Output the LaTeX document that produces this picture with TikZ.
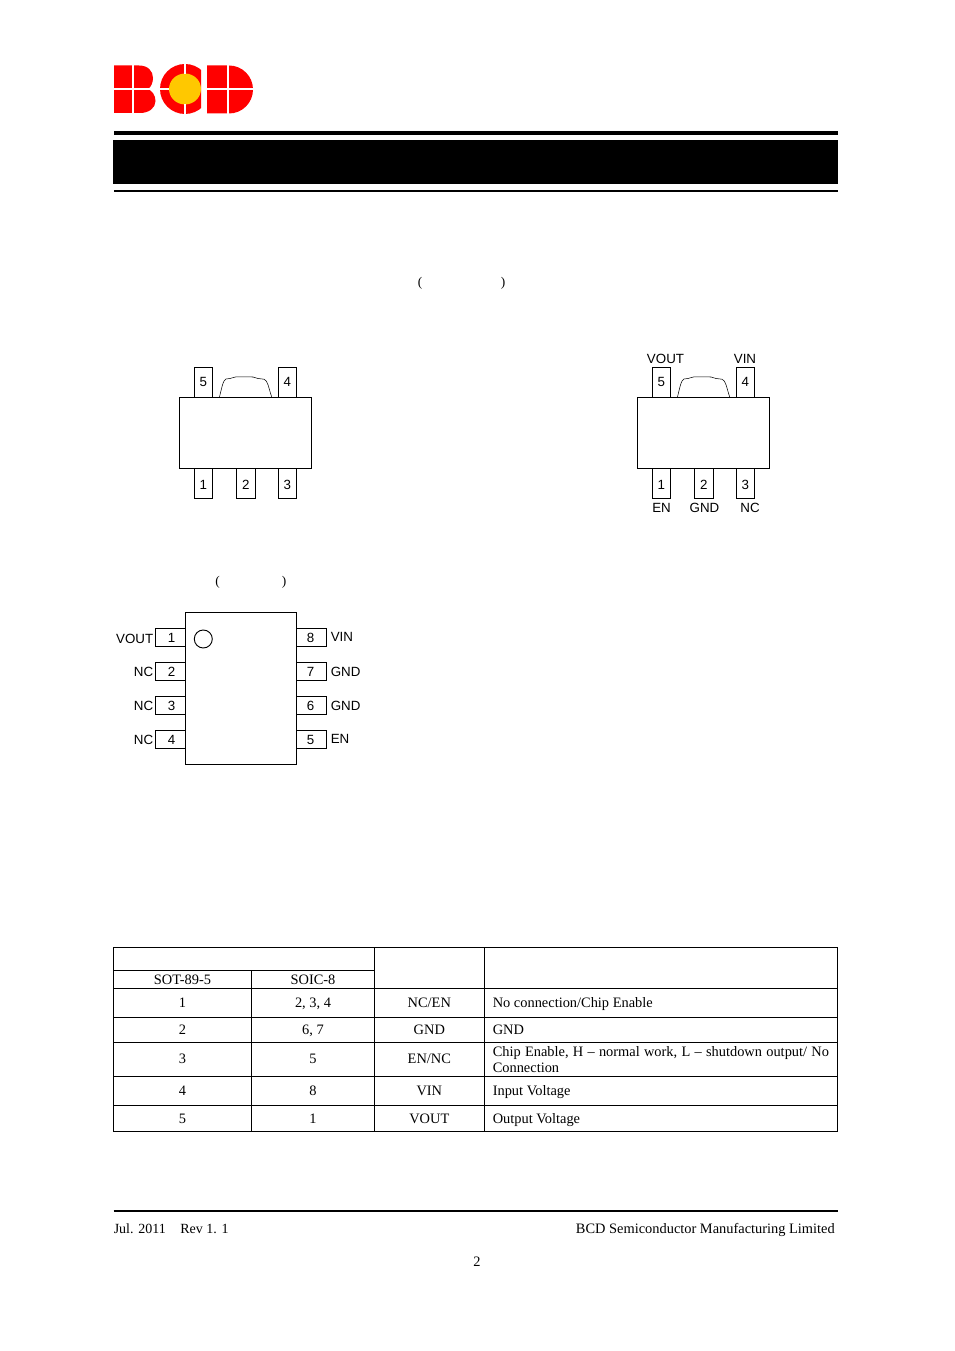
\documentclass[tikz,border=0pt]{standalone}
\usepackage{fontspec}
\setmainfont{Liberation Serif}
\newfontfamily\pinfont{Liberation Sans}
\definecolor{logored}{RGB}{255,0,0}
\definecolor{logoyellow}{RGB}{255,200,0}
\tikzset{
	pin/.style={draw,inner sep=0pt,text depth=0pt,font=\pinfont\fontsize{10}{12}\selectfont},
	pinlabel/.style={inner sep=0pt,font=\pinfont\fontsize{10}{12}\selectfont},
	cell/.style={inner sep=0pt,anchor=base,font=\fontsize{10.8}{12}\selectfont},
	paren/.style={inner sep=0pt,font=\fontsize{10}{12}\selectfont},
	gap/.style={white,line width=0.8pt},
	rule/.style={line width=0.75pt}
}
\newcommand{\sotpack}[2]{
	\node[draw,minimum width=99pt,minimum height=53.25pt,inner sep=0pt] (#2body) at (245.4+#1,432.8){};
	\foreach \nm/\xx/\yy/\th in {5/203.4/382.2/7.2pt,4/287.4/382.2/7.2pt,1/203.4/483.4/8.8pt,2/245.8/483.4/8.8pt,3/287.4/483.4/8.8pt}{
		\node[pin,text height=\th,minimum width=13.6pt,minimum height=22.5pt] (#2pin\nm) at (\xx+#1,\yy){\nm};
	}
	\draw (219.4+#1,397.3) .. controls (221.5+#1,389) and (223+#1,380) .. (226+#1,379) -- (230+#1,378.5) .. controls (233+#1,378) and (234+#1,376.8) .. (238+#1,376.8) -- (253+#1,377) -- (258+#1,378.5) -- (264+#1,379.2) .. controls (268+#1,381) and (268+#1,386) .. (271.8+#1,397.3);
}
\begin{document}
\begin{tikzpicture}[x=0.75pt,y=-0.75pt]

	\path[use as bounding box] (0,0) rectangle (954,1351);

	\fill[logored] (114,65.5) -- (139,65.5) .. controls (148,65.5) and (153,71) .. (153,78) .. controls (153,83) and (151,87) .. (148,89) .. controls (152,91) and (155.5,95) .. (155.5,101) .. controls (155.5,108) and (149,113) .. (140,113) -- (114,113) -- cycle;
	\begin{scope}
		\clip (155,60) rectangle (201,118);
		\fill[logored] (185,89) circle[radius=18.75pt];
		\fill[logoyellow] (185,89) ellipse[x radius=12pt,y radius=11.6pt];
	\end{scope}
	\fill[logored] (207,65.5) -- (229,65.5) arc[start angle=90,end angle=-90,x radius=18pt,y radius=18pt] -- (207,113.5) -- cycle;
	\draw[gap] (133,65) -- (133,114);
	\draw[gap] (113,89) -- (150,89);
	\draw[gap] (158,89) -- (169,89);
	\draw[gap] (185,63) -- (185,74);
	\draw[gap] (185,104) -- (185,115);
	\draw[gap] (228,65) -- (228,114);
	\draw[gap] (207,89) -- (254,89);

	\fill (114,131) rectangle (838,135);
	\fill (113,140) rectangle (838,184);
	\fill (114,190) rectangle (838,192);

	\node[paren] (parena) at (420,283){(};
	\node[paren] (parenb) at (503,283){)};
	\node[paren] (parenc) at (217.5,582){(};
	\node[paren] (parend) at (284,582){)};

	\sotpack{0}{l}
	\sotpack{458}{r}

	\foreach \nm/\txt/\xx/\yy in {a/VOUT/665.5/359,b/VIN/745/359,c/EN/661.5/508,d/GND/704.5/508,e/NC/750/508}{
		\node[pinlabel] (rlab\nm) at (\xx,\yy){\txt};
	}

	\node[draw,minimum width=83.25pt,minimum height=113.75pt,inner sep=0pt] (soic) at (240.8,688.2){};
	\node[draw,circle,line width=0.7pt,minimum size=13.5pt,inner sep=0pt] (dot) at (203.3,639){};
	\foreach \nm/\yy/\ly/\txt in {1/637.5/639/VOUT,2/671.5/672/NC,3/705.5/706/NC,4/739.2/740/NC}{
		\node[pin,text height=7.2pt,minimum width=22.5pt,minimum height=13.2pt] (pin\nm) at (170.3,\yy){\hspace*{1.8pt}\nm};
		\node[pinlabel,anchor=east] (lab\nm) at (153.5,\ly){\txt};
	}
	\foreach \nm/\yy/\txt in {8/637.2/VIN,7/671.5/GND,6/705.5/GND,5/739.2/EN}{
		\node[pin,text height=7.2pt,minimum width=22.5pt,minimum height=13.2pt] (pin\nm) at (311.2,\yy){\nm\hspace*{1pt}};
		\node[pinlabel,anchor=west] (lab\nm) at (330.5,\yy){\txt};
	}

	\draw[rule] (113.5,947.5) rectangle (837.5,1131.5);
	\draw[rule] (374.3,947.5) -- (374.3,1131.5);
	\draw[rule] (484.3,947.5) -- (484.3,1131.5);
	\draw[rule] (251.7,970.3) -- (251.7,1131.5);
	\draw[rule] (113.5,970.3) -- (374.3,970.3);
	\foreach \yy in {988.7,1017.3,1042.3,1076.3,1105.3}{
		\draw[rule] (113.5,\yy) -- (837.5,\yy);
	}

	\node[cell] (heada) at (182.5,984){SOT-89-5};
	\node[cell] (headb) at (313,984){SOIC-8};
	\foreach \nm/\pa/\pb/\sig/\yy in {1/1/{2, 3, 4}/NC\slash EN/1007.5,2/2/{6, 7}/GND/1034,3/3/5/EN\slash NC/1063.5,4/4/8/VIN/1095,5/5/1/VOUT/1123}{
		\node[cell] (cella\nm) at (182.5,\yy){\pa};
		\node[cell] (cellb\nm) at (313,\yy){\pb};
		\node[cell] (cellc\nm) at (429.3,\yy){\sig};
	}
	\node[cell,anchor=base west] (celld1) at (492.5,1007.5){No connection/Chip Enable};
	\node[cell,anchor=base west] (celld2) at (492.5,1034){GND};
	\node[cell,anchor=base west] (celld3) at (492.5,1056){\spaceskip=3.2pt Chip Enable, H -- normal work, L -- shutdown output/ No};
	\node[cell,anchor=base west] (celld3b) at (492.5,1072){Connection};
	\node[cell,anchor=base west] (celld4) at (492.5,1095){Input Voltage};
	\node[cell,anchor=base west] (celld5) at (492.5,1123){Output Voltage};

	\draw[line width=1.5pt] (113.5,1210.7) -- (838,1210.7);
	\node[cell,anchor=base west,font=\fontsize{10.5}{12}\selectfont] (date) at (113.5,1233){Jul. 2011\hspace{11pt}Rev 1. 1};
	\node[cell,anchor=base east] (firm) at (835,1233){BCD Semiconductor Manufacturing Limited};
	\node[cell] (page) at (477,1266){2};

\end{tikzpicture}
\end{document}
